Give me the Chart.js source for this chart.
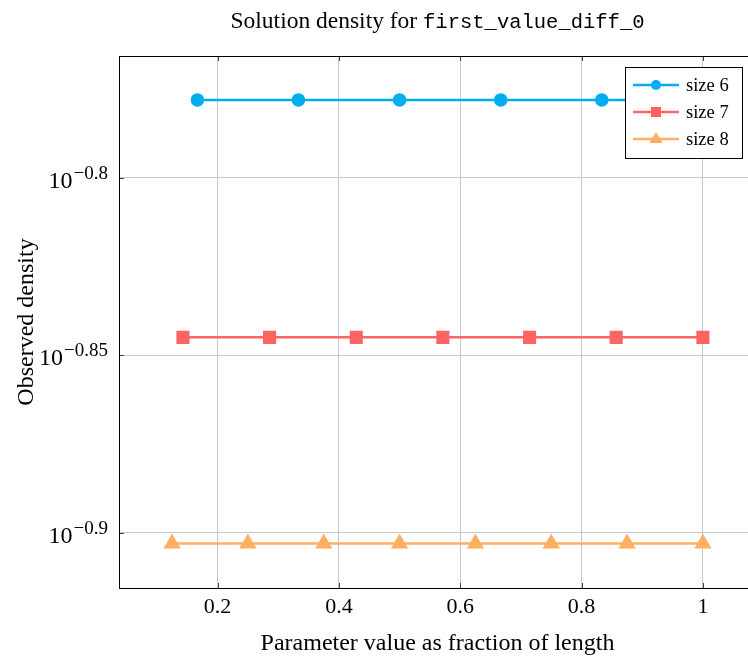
<!DOCTYPE html>
<html>
<head>
<meta charset="utf-8">
<script src="https://cdn.jsdelivr.net/npm/chart.js@4/dist/chart.umd.min.js"></script>
<style>
  html, body { margin: 0; padding: 0; background: #fff; overflow: hidden; }
  #wrap { width: 766px; height: 662px; }
</style>
</head>
<body>
<div id="wrap"><canvas id="densityChart" width="766" height="662"></canvas></div>
<script>
// data (density = 1/size, positions k/size)
const size6X = [0.1667, 0.3333, 0.5, 0.6667, 0.8333, 1.0];
const size6Y = [0.1667, 0.1667, 0.1667, 0.1667, 0.1667, 0.1667];
const size7X = [0.1429, 0.2857, 0.4286, 0.5714, 0.7143, 0.8571, 1.0];
const size7Y = [0.1429, 0.1429, 0.1429, 0.1429, 0.1429, 0.1429, 0.1429];
const size8X = [0.125, 0.25, 0.375, 0.5, 0.625, 0.75, 0.875, 1.0];
const size8Y = [0.125, 0.125, 0.125, 0.125, 0.125, 0.125, 0.125, 0.125];

const seriesLabels = ['size 6', 'size 7', 'size 8'];
const xTicks = [0.2, 0.4, 0.6, 0.8, 1.0];
const yTickExps = [-0.9, -0.85, -0.8];
const yTickLabels = ['\u22120.9', '\u22120.85', '\u22120.8'];

const titleText = 'Solution density for ';
const titleCode = 'first_value_diff_0';

const SERIF = '"Liberation Serif", "DejaVu Serif", serif';
const MONO = '"Liberation Mono", "DejaVu Sans Mono", monospace';

function toPoints(xs, ys) {
  return xs.map((x, i) => ({ x: x, y: ys[i] }));
}

function drawMarker(ctx, style, x, y, color) {
  ctx.save();
  ctx.fillStyle = color;
  ctx.beginPath();
  if (style === 'circle') {
    ctx.arc(x, y, 5, 0, Math.PI * 2);
  } else if (style === 'rect') {
    ctx.rect(x - 5, y - 5, 10, 10);
  } else {
    ctx.moveTo(x, y - 7);
    ctx.lineTo(x + 6.5, y + 4);
    ctx.lineTo(x - 6.5, y + 4);
    ctx.closePath();
  }
  ctx.fill();
  ctx.restore();
}

const framePlugin = {
  id: 'frame',
  afterDraw(chart) {
    const { ctx, chartArea: a, scales } = chart;
    ctx.save();
    // inward tick marks
    ctx.strokeStyle = '#444';
    ctx.lineWidth = 1;
    scales.x.ticks.forEach(t => {
      const px = Math.round(scales.x.getPixelForValue(t.value)) + 0.5;
      ctx.beginPath();
      ctx.moveTo(px, a.bottom); ctx.lineTo(px, a.bottom - 5);
      ctx.moveTo(px, a.top); ctx.lineTo(px, a.top + 5);
      ctx.stroke();
    });
    scales.y.ticks.forEach(t => {
      const py = Math.round(scales.y.getPixelForValue(t.value)) + 0.5;
      ctx.beginPath();
      ctx.moveTo(a.left, py); ctx.lineTo(a.left + 5, py);
      ctx.moveTo(a.right, py); ctx.lineTo(a.right - 5, py);
      ctx.stroke();
    });
    ctx.strokeStyle = '#000';
    ctx.strokeRect(a.left + 0.5, a.top + 0.5, a.right - a.left, a.bottom - a.top);

    // y tick labels as 10^exp
    ctx.fillStyle = '#000';
    ctx.textAlign = 'right';
    ctx.textBaseline = 'alphabetic';
    const rightX = a.left - 11;
    scales.y.ticks.forEach((t, i) => {
      const py = scales.y.getPixelForValue(t.value);
      ctx.font = '19px ' + SERIF;
      const expLabel = yTickLabels[i];
      const ew = ctx.measureText(expLabel).width;
      ctx.fillText(expLabel, rightX, py + 1);
      ctx.font = '24px ' + SERIF;
      ctx.fillText('10', rightX - ew - 1, py + 10);
    });

    // title: serif text + monospace code
    const cx = (a.left + a.right) / 2;
    ctx.textAlign = 'left';
    ctx.font = '23.5px ' + SERIF;
    const w1 = ctx.measureText(titleText).width;
    ctx.font = '20.5px ' + MONO;
    const w2 = ctx.measureText(titleCode).width;
    const tx = cx - (w1 + w2) / 2;
    ctx.font = '23.5px ' + SERIF;
    ctx.fillText(titleText, tx, 28);
    ctx.font = '20.5px ' + MONO;
    ctx.fillText(titleCode, tx + w1, 28);

    // legend inside the plot, top right
    const lx = a.right - 131, ly = a.top + 11, lw = 117, lh = 91;
    ctx.fillStyle = '#fff';
    ctx.fillRect(lx, ly, lw, lh);
    ctx.strokeStyle = '#000';
    ctx.strokeRect(lx + 0.5, ly + 0.5, lw, lh);
    chart.data.datasets.forEach((ds, i) => {
      const ry = ly + 18 + i * 27;
      ctx.strokeStyle = ds.borderColor;
      ctx.lineWidth = 2.5;
      ctx.beginPath();
      ctx.moveTo(lx + 8, ry); ctx.lineTo(lx + 54, ry);
      ctx.stroke();
      drawMarker(ctx, ds.pointStyle, lx + 31, ry, ds.backgroundColor);
      ctx.fillStyle = '#000';
      ctx.font = '18.5px ' + SERIF;
      ctx.textBaseline = 'middle';
      ctx.fillText(ds.label, lx + 61, ry + 1);
    });
    ctx.restore();
  }
};

new Chart(document.getElementById('densityChart'), {
  type: 'line',
  data: {
    datasets: [
      {
        label: seriesLabels[0], data: toPoints(size6X, size6Y),
        borderColor: '#00aeef', backgroundColor: '#00aeef',
        pointStyle: 'circle', pointRadius: 5.5, borderWidth: 2.5
      },
      {
        label: seriesLabels[1], data: toPoints(size7X, size7Y),
        borderColor: '#ff6464', backgroundColor: '#ff6464',
        pointStyle: 'rect', pointRadius: 7.5, borderWidth: 2.5
      },
      {
        label: seriesLabels[2], data: toPoints(size8X, size8Y),
        borderColor: '#ffae62', backgroundColor: '#ffae62',
        pointStyle: 'triangle', pointRadius: 7.5, borderWidth: 2.5
      }
    ]
  },
  options: {
    responsive: false,
    animation: false,
    layout: { padding: { top: 56, right: 0, left: 0, bottom: 0 } },
    plugins: { legend: { display: false }, tooltip: { enabled: false } },
    elements: { point: { borderWidth: 0 }, line: { tension: 0 } },
    scales: {
      x: {
        type: 'linear',
        min: 0.0375,
        max: 1.0875,
        afterBuildTicks(scale) { scale.ticks = xTicks.map(v => ({ value: v })); },
        afterFit(scale) { scale.height = 74; },
        grid: { color: '#c8c8c8', drawTicks: false },
        border: { display: false },
        ticks: {
          color: '#000',
          font: { family: SERIF, size: 22 },
          padding: 6,
          maxRotation: 0,
          callback: v => String(v)
        },
        title: {
          display: true,
          text: 'Parameter value as fraction of length',
          color: '#000',
          font: { family: SERIF, size: 24 },
          padding: { top: 0, bottom: 4 }
        }
      },
      y: {
        type: 'logarithmic',
        min: Math.pow(10, -0.9156),
        max: Math.pow(10, -0.7657),
        afterBuildTicks(scale) { scale.ticks = yTickExps.map(e => ({ value: Math.pow(10, e) })); },
        afterFit(scale) { scale.width = 119; },
        grid: { color: '#c8c8c8', drawTicks: false },
        border: { display: false },
        ticks: { display: false },
        title: {
          display: true,
          text: 'Observed density',
          color: '#000',
          font: { family: SERIF, size: 24 },
          padding: { top: 12, bottom: 0 }
        }
      }
    }
  },
  plugins: [framePlugin]
});
</script>
</body>
</html>
